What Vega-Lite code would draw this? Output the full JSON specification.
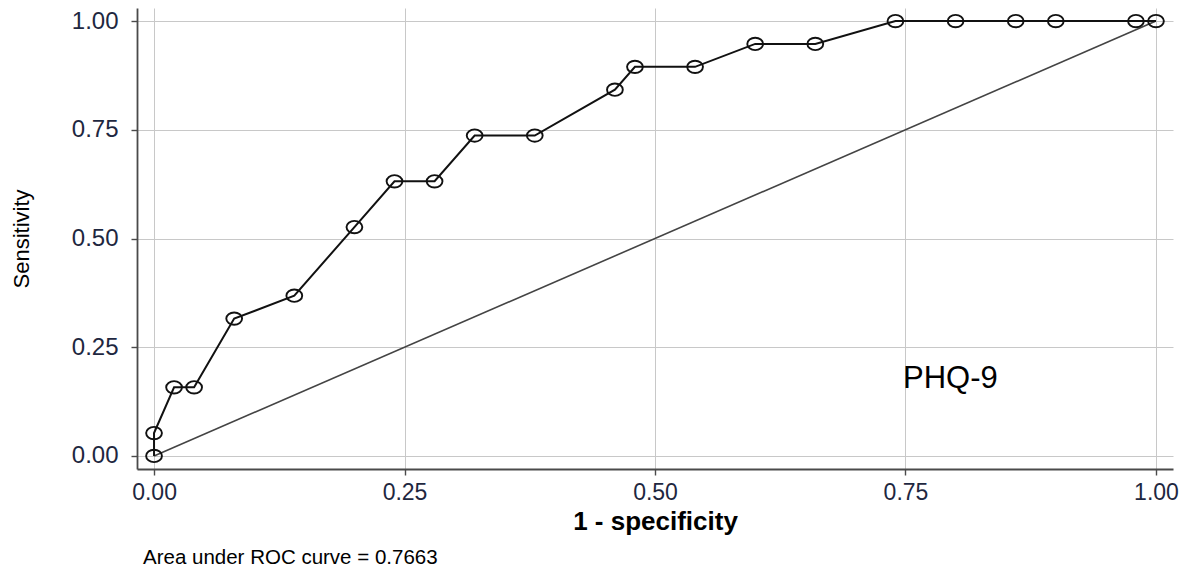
{
  "$schema": "https://vega.github.io/schema/vega-lite/v6.json",
  "width": 1036,
  "height": 461,
  "autosize": {"type": "none"},
  "padding": {"left": 137, "top": 8, "right": 19, "bottom": 104},
  "background": "white",
  "config": {
    "view": {"stroke": null},
    "font": "Liberation Sans",
    "axis": {
      "domainColor": "#4a4a4a",
      "domainWidth": 1.8,
      "tickColor": "#4a4a4a",
      "tickWidth": 1.4,
      "tickSize": 6,
      "gridColor": "#c8c8c8",
      "gridWidth": 1,
      "labelFont": "Liberation Sans",
      "labelColor": "#1e2740",
      "titleFont": "Liberation Sans",
      "titleColor": "#000"
    }
  },
  "datasets": {
    "roc": [
      {"fpr": 0.00, "tpr": 0.0},
      {"fpr": 0.00, "tpr": 0.0526},
      {"fpr": 0.02, "tpr": 0.1579},
      {"fpr": 0.04, "tpr": 0.1579},
      {"fpr": 0.08, "tpr": 0.3158},
      {"fpr": 0.14, "tpr": 0.3684},
      {"fpr": 0.20, "tpr": 0.5263},
      {"fpr": 0.24, "tpr": 0.6316},
      {"fpr": 0.28, "tpr": 0.6316},
      {"fpr": 0.32, "tpr": 0.7368},
      {"fpr": 0.38, "tpr": 0.7368},
      {"fpr": 0.46, "tpr": 0.8421},
      {"fpr": 0.48, "tpr": 0.8947},
      {"fpr": 0.54, "tpr": 0.8947},
      {"fpr": 0.60, "tpr": 0.9474},
      {"fpr": 0.66, "tpr": 0.9474},
      {"fpr": 0.74, "tpr": 1.0},
      {"fpr": 0.80, "tpr": 1.0},
      {"fpr": 0.86, "tpr": 1.0},
      {"fpr": 0.90, "tpr": 1.0},
      {"fpr": 0.98, "tpr": 1.0},
      {"fpr": 1.00, "tpr": 1.0}
    ],
    "diag": [
      {"fpr": 0, "tpr": 0},
      {"fpr": 1, "tpr": 1}
    ],
    "notes": [
      {"fpr": 0.7475, "tpr": 0.178, "label": "PHQ-9"}
    ],
    "auc": [
      {"fpr": -0.011, "tpr": -0.235, "label": "Area under ROC curve = 0.7663"}
    ]
  },
  "layer": [
    {
      "data": {"name": "diag"},
      "mark": {"type": "line", "color": "#444444", "strokeWidth": 1.6},
      "encoding": {
        "x": {
          "field": "fpr", "type": "quantitative",
          "scale": {"domain": [-0.017, 1.017], "nice": false, "zero": false},
          "axis": {
            "values": [0, 0.25, 0.5, 0.75, 1],
            "format": ".2f",
            "title": "1 - specificity",
            "titleFontSize": 26,
            "titleFontWeight": "bold",
            "labelFontSize": 23,
            "labelPadding": 6,
            "titlePadding": 4
          }
        },
        "y": {
          "field": "tpr", "type": "quantitative",
          "scale": {"domain": [-0.03, 1.03], "nice": false, "zero": false},
          "axis": {
            "values": [0, 0.25, 0.5, 0.75, 1],
            "format": ".2f",
            "title": "Sensitivity",
            "titleFontSize": 22,
            "titleFontWeight": "normal",
            "labelFontSize": 24,
            "labelPadding": 13,
            "titlePadding": 38
          }
        }
      }
    },
    {
      "data": {"name": "roc"},
      "mark": {"type": "line", "color": "#111", "strokeWidth": 2},
      "encoding": {
        "x": {"field": "fpr", "type": "quantitative"},
        "y": {"field": "tpr", "type": "quantitative"}
      }
    },
    {
      "data": {"name": "roc"},
      "mark": {"type": "point", "shape": "M -1 0 A 1 0.78 0 1 0 1 0 A 1 0.78 0 1 0 -1 0 Z", "filled": false, "size": 250, "stroke": "#111", "strokeWidth": 1.9, "opacity": 1},
      "encoding": {
        "x": {"field": "fpr", "type": "quantitative"},
        "y": {"field": "tpr", "type": "quantitative"}
      }
    },
    {
      "data": {"name": "notes"},
      "mark": {"type": "text", "align": "left", "baseline": "middle", "fontSize": 31, "color": "#000", "font": "Liberation Sans"},
      "encoding": {
        "x": {"field": "fpr", "type": "quantitative"},
        "y": {"field": "tpr", "type": "quantitative"},
        "text": {"field": "label"}
      }
    },
    {
      "data": {"name": "auc"},
      "mark": {"type": "text", "align": "left", "baseline": "middle", "fontSize": 20.5, "color": "#000", "font": "Liberation Sans"},
      "encoding": {
        "x": {"field": "fpr", "type": "quantitative"},
        "y": {"field": "tpr", "type": "quantitative"},
        "text": {"field": "label"}
      }
    }
  ]
}
